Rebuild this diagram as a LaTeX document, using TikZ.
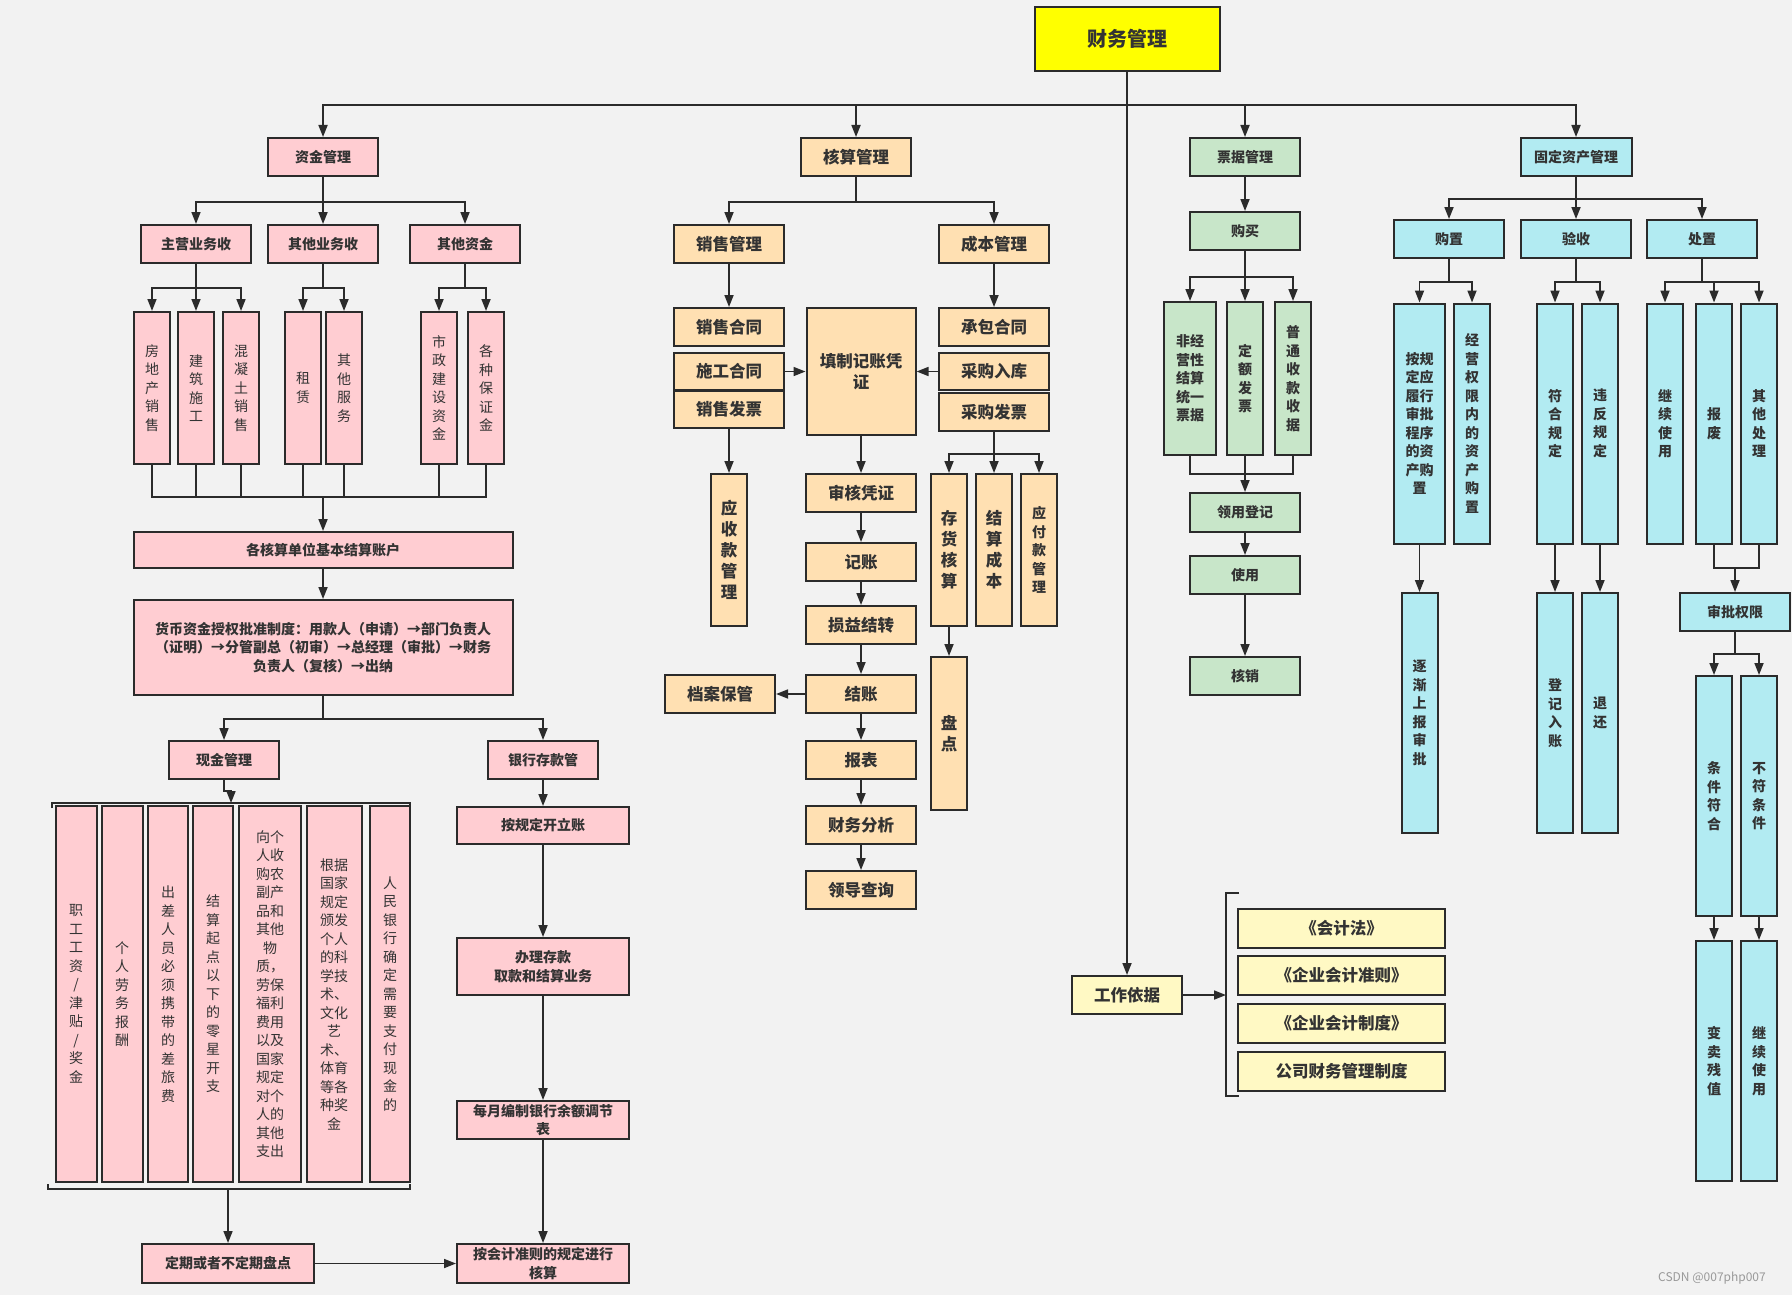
\documentclass[tikz,border=0pt]{standalone}
\usepackage{fontspec}
\setmainfont{Noto Sans CJK SC}
\usetikzlibrary{arrows.meta}

\definecolor{bgcol}{HTML}{F2F2F2}
\definecolor{edge}{HTML}{2B2B2B}
\definecolor{ink}{HTML}{333333}
\definecolor{fundfill}{HTML}{FFCDD2}
\definecolor{acctfill}{HTML}{FFE0B2}
\definecolor{billfill}{HTML}{C8E6C9}
\definecolor{assetfill}{HTML}{B2EBF2}
\definecolor{basisfill}{HTML}{FFF9C4}
\definecolor{rootfill}{HTML}{FFFF00}

\begin{document}
\begin{tikzpicture}[
    x = 1pt, y = -1pt,
    every node/.append style = {align = center, text = ink, inner sep = 0pt},
    box/.style = {draw = edge, line width = 2pt, minimum width = 110pt, minimum height = 38pt},
    txt/.style = {font = \fontsize{14}{18.5}\selectfont},
    txt bold/.style = {font = \fontsize{14}{18.5}\selectfont\bfseries},
    txt big/.style = {font = \fontsize{16.5}{21}\selectfont\bfseries},
    fund/.style = {box, fill = fundfill, txt bold},
    fund leaf/.style = {box, fill = fundfill, txt, minimum width = 36pt, minimum height = 152pt},
    acct/.style = {box, fill = acctfill, txt big},
    acct leaf/.style = {acct, minimum width = 36pt, minimum height = 152pt},
    bill/.style = {box, fill = billfill, txt bold},
    asset/.style = {box, fill = assetfill, txt bold},
    asset leaf/.style = {asset, minimum width = 36pt, minimum height = 240pt},
    basis/.style = {box, fill = basisfill, txt big},
    link/.style = {draw = edge, line width = 1.7pt},
    >={Triangle[length = 12pt, width = 9pt]}
]
\useasboundingbox (0,0) rectangle (1792,1295);
\fill[bgcol] (0,0) rectangle (1792,1295);

\node[box, fill = rootfill, minimum width = 185pt, minimum height = 64pt,
    font = \fontsize{20}{24}\selectfont\bfseries] (root) at (1127,39) {财务管理};

\node[fund] (zj) at (323,157) {资金管理};
\node[fund] (zy) at (196,244) {主营业务收};
\node[fund] (qy) at (323,244) {其他业务收};
\node[fund] (qz) at (465,244) {其他资金};
\foreach \n/\x/\t in {l1/152/{房\\地\\产\\销\\售}, l2/196/{建\\筑\\施\\工}, l3/241/{混\\凝\\土\\销\\售},
    l4/303/{租\\赁}, l5/344/{其\\他\\服\\务}, l6/439/{市\\政\\建\\设\\资\\金}, l7/486/{各\\种\\保\\证\\金}}
    \node[fund leaf] (\n) at (\x,388) {\t};
\node[fund, minimum width = 379pt, minimum height = 36pt] (js) at (323,550) {各核算单位基本结算账户};
\node[fund, minimum width = 379pt, minimum height = 95pt] (hb) at (323,647.5)
    {货币资金授权批准制度：用款人（申请）→部门负责人\\（证明）→分管副总（初审）→总经理（审批）→财务\\负责人（复核）→出纳};
\node[fund] (xj) at (224,760) {现金管理};
\node[fund] (yh) at (543,760) {银行存款管};
\foreach \n/\x/\w/\t in {c1/76/41/{职\\工\\工\\资\\/\\津\\贴\\/\\奖\\金}, c2/122/41/{个\\人\\劳\\务\\报\\酬},
    c3/168/40/{出\\差\\人\\员\\必\\须\\携\\带\\的\\差\\旅\\费}, c4/213/40/{结\\算\\起\\点\\以\\下\\的\\零\\星\\开\\支},
    c5/270/62/{向个\\人收\\购农\\副产\\品和\\其他\\物\\质，\\劳保\\福利\\费用\\以及\\国家\\规定\\对个\\人的\\其他\\支出},
    c6/334/55/{根据\\国家\\规定\\颁发\\个人\\的科\\学技\\术、\\文化\\艺\\术、\\体育\\等各\\种奖\\金},
    c7/390/40/{人\\民\\银\\行\\确\\定\\需\\要\\支\\付\\现\\金\\的}}
    \node[fund leaf, minimum width = \w pt, minimum height = 376pt] (\n) at (\x,994) {\t};
\node[fund, minimum width = 172pt, minimum height = 37pt] (b1) at (543,825.5) {按规定开立账};
\node[fund, minimum width = 172pt, minimum height = 57pt] (b2) at (543,966.5) {办理存款\\取款和结算业务};
\node[fund, minimum width = 172pt] (b3) at (543,1120) {每月编制银行余额调节\\表};
\node[fund, minimum width = 172pt, minimum height = 39pt] (b4) at (543,1263.5) {按会计准则的规定进行\\核算};
\node[fund, minimum width = 172pt, minimum height = 39pt] (dq) at (228,1263.5) {定期或者不定期盘点};

\node[acct] (hs) at (856,157) {核算管理};
\node[acct] (xs) at (729,244) {销售管理};
\node[acct] (cb) at (994,244) {成本管理};
\node[acct] (o1) at (729,327) {销售合同};
\node[acct, minimum height = 37pt] (o2) at (729,371.5) {施工合同};
\node[acct, minimum height = 37pt] (o3) at (729,409.5) {销售发票};
\node[acct, minimum width = 109pt, minimum height = 127pt] (tz) at (861,371.5) {填制记账凭\\证};
\node[acct] (p1) at (994,327) {承包合同};
\node[acct, minimum height = 37pt] (p2) at (994,371.5) {采购入库};
\node[acct] (p3) at (994,412) {采购发票};
\foreach \n/\y/\t in {sh/493/审核凭证, jz/562/记账, sy/625/损益结转, jie/694/结账, bb/760/报表, cw/825/财务分析, ld/890/领导查询}
    \node[acct] (\n) at (861,\y) {\t};
\node[acct] (da) at (720,694) {档案保管};
\node[acct leaf] (ys) at (729,550) {应\\收\\款\\管\\理};
\node[acct leaf] (ch) at (949,550) {存\\货\\核\\算};
\node[acct leaf] (jc) at (994,550) {结\\算\\成\\本};
\node[acct leaf, txt bold] (yf) at (1039,550) {应\\付\\款\\管\\理};
\node[acct leaf, minimum height = 153pt] (pd) at (949,733.5) {盘\\点};

\node[bill] (pj) at (1245,157) {票据管理};
\node[bill] (gm) at (1245,231) {购买};
\node[bill, minimum width = 52pt, minimum height = 153pt] (g1) at (1190,378.5) {非经\\营性\\结算\\统一\\票据};
\node[bill, minimum width = 36pt, minimum height = 153pt] (g2) at (1245,378.5) {定\\额\\发\\票};
\node[bill, minimum width = 36pt, minimum height = 153pt] (g3) at (1293,378.5) {普\\通\\收\\款\\收\\据};
\node[bill, minimum height = 39pt] (ly) at (1245,512.5) {领用登记};
\node[bill] (syy) at (1245,575) {使用};
\node[bill] (hx) at (1245,676) {核销};

\node[asset, minimum width = 111pt] (gd) at (1576,157) {固定资产管理};
\node[asset] (gz) at (1449,239) {购置};
\node[asset] (yss) at (1576,239) {验收};
\node[asset] (cz) at (1702,239) {处置};
\node[asset leaf, minimum width = 51pt] (k1) at (1419.5,423.5) {按规\\定应\\履行\\审批\\程序\\的资\\产购\\置};
\foreach \n/\x/\t in {k2/1472/{经\\营\\权\\限\\内\\的\\资\\产\\购\\置}, k3/1555/{符\\合\\规\\定}, k4/1600/{违\\反\\规\\定},
    k5/1665/{继\\续\\使\\用}, k6/1714/{报\\废}, k7/1759/{其\\他\\处\\理}}
    \node[asset leaf] (\n) at (\x,423.5) {\t};
\foreach \n/\x/\y/\t in {m1/1419.5/713/{逐\\渐\\上\\报\\审\\批}, m2/1555/713/{登\\记\\入\\账}, m3/1600/713/{退\\还},
    n1/1714/796/{条\\件\\符\\合}, n2/1759/796/{不\\符\\条\\件}, r1/1714/1061/{变\\卖\\残\\值}, r2/1759/1061/{继\\续\\使\\用}}
    \node[asset leaf] (\n) at (\x,\y) {\t};
\node[asset] (sp) at (1735,612) {审批权限};

\node[basis] (gy) at (1127,995) {工作依据};
\foreach \n/\y/\t in {w1/928.5/《会计法》, w2/975.5/《企业会计准则》, w3/1023.5/《企业会计制度》, w4/1071/公司财务管理制度}
    \node[basis, minimum width = 207pt, minimum height = 39pt] (\n) at (1341.5,\y) {\t};

\node[font = \fontsize{12}{14}\selectfont, text = gray!80] (wm) at (1712,1278) {CSDN @007php007};

\foreach \c in {zj, hs, pj, gd}
    \draw[link, ->] (root.south) -- ++(0,33) -| (\c.north);
\draw[link, ->] (root.south) -- (gy.north);

\foreach \c in {zy, qy, qz}
    \draw[link, ->] (zj.south) -- ++(0,25) -| (\c.north);
\foreach \p/\c in {zy/l1, zy/l2, zy/l3, qy/l4, qy/l5, qz/l6, qz/l7}
    \draw[link, ->] (\p.south) -- ++(0,24) -| (\c.north);
\coordinate (jb) at (323,497);
\foreach \i in {1,...,7}
    \draw[link] (l\i.south) |- (jb);
\draw[link, ->] (jb) -- (js.north);
\draw[link, ->] (js) -- (hb);
\foreach \c in {xj, yh}
    \draw[link, ->] (hb.south) -- ++(0,23) -| (\c.north);
\coordinate (cash top) at (231,803);
\coordinate (cash bot) at (228,1189);
\draw[link, ->] (xj.south) -- ++(0,11) -| (cash top);
\draw[link] (52,808) |- (410,803) -- (410,808);
\draw[link] (48,1184) |- (410,1189) -- (410,1184);
\draw[link, ->] (cash bot) -- (dq.north);
\draw[link, ->] (dq) -- (b4);
\foreach \a/\b in {yh/b1, b1/b2, b2/b3, b3/b4}
    \draw[link, ->] (\a) -- (\b);

\foreach \c in {xs, cb}
    \draw[link, ->] (hs.south) -- ++(0,25) -| (\c.north);
\draw[link, ->] (xs) -- (o1);
\draw[link, ->] (cb) -- (p1);
\draw[link, ->] (o2) -- (tz);
\draw[link, ->] (p2) -- (tz);
\draw[link, ->] (o3) -- (ys);
\foreach \c in {ch, jc, yf}
    \draw[link, ->] (p3.south) -- ++(0,22) -| (\c.north);
\draw[link, ->] (ch) -- (pd);
\foreach \a/\b in {tz/sh, sh/jz, jz/sy, sy/jie, jie/bb, bb/cw, cw/ld}
    \draw[link, ->] (\a) -- (\b);
\draw[link, ->] (jie) -- (da);

\draw[link, ->] (pj) -- (gm);
\foreach \c in {g1, g2, g3}
    \draw[link, ->] (gm.south) -- ++(0,26) -| (\c.north);
\coordinate (gb) at (1245,474);
\draw[link] (g1.south) |- (gb);
\draw[link] (g3.south) |- (gb);
\draw[link, ->] (g2) -- (ly);
\draw[link, ->] (ly) -- (syy);
\draw[link, ->] (syy) -- (hx);

\foreach \c in {gz, yss, cz}
    \draw[link, ->] (gd.south) -- ++(0,22) -| (\c.north);
\foreach \p/\c in {gz/k1, gz/k2, yss/k3, yss/k4, cz/k5, cz/k6, cz/k7}
    \draw[link, ->] (\p.south) -- ++(0,23) -| (\c.north);
\foreach \a/\b in {k1/m1, k3/m2, k4/m3, n1/r1, n2/r2}
    \draw[link, ->] (\a) -- (\b);
\coordinate (kb) at (1735,568);
\draw[link] (k6.south) |- (kb);
\draw[link] (k7.south) |- (kb);
\draw[link, ->] (kb) -- (sp.north);
\foreach \c in {n1, n2}
    \draw[link, ->] (sp.south) -- ++(0,22) -| (\c.north);

\coordinate (wb) at (1226,995);
\draw[link, ->] (gy) -- (wb);
\draw[link] (1239,893) -- (1226,893) -- (1226,1096) -- (1239,1096);
\end{tikzpicture}
\end{document}
